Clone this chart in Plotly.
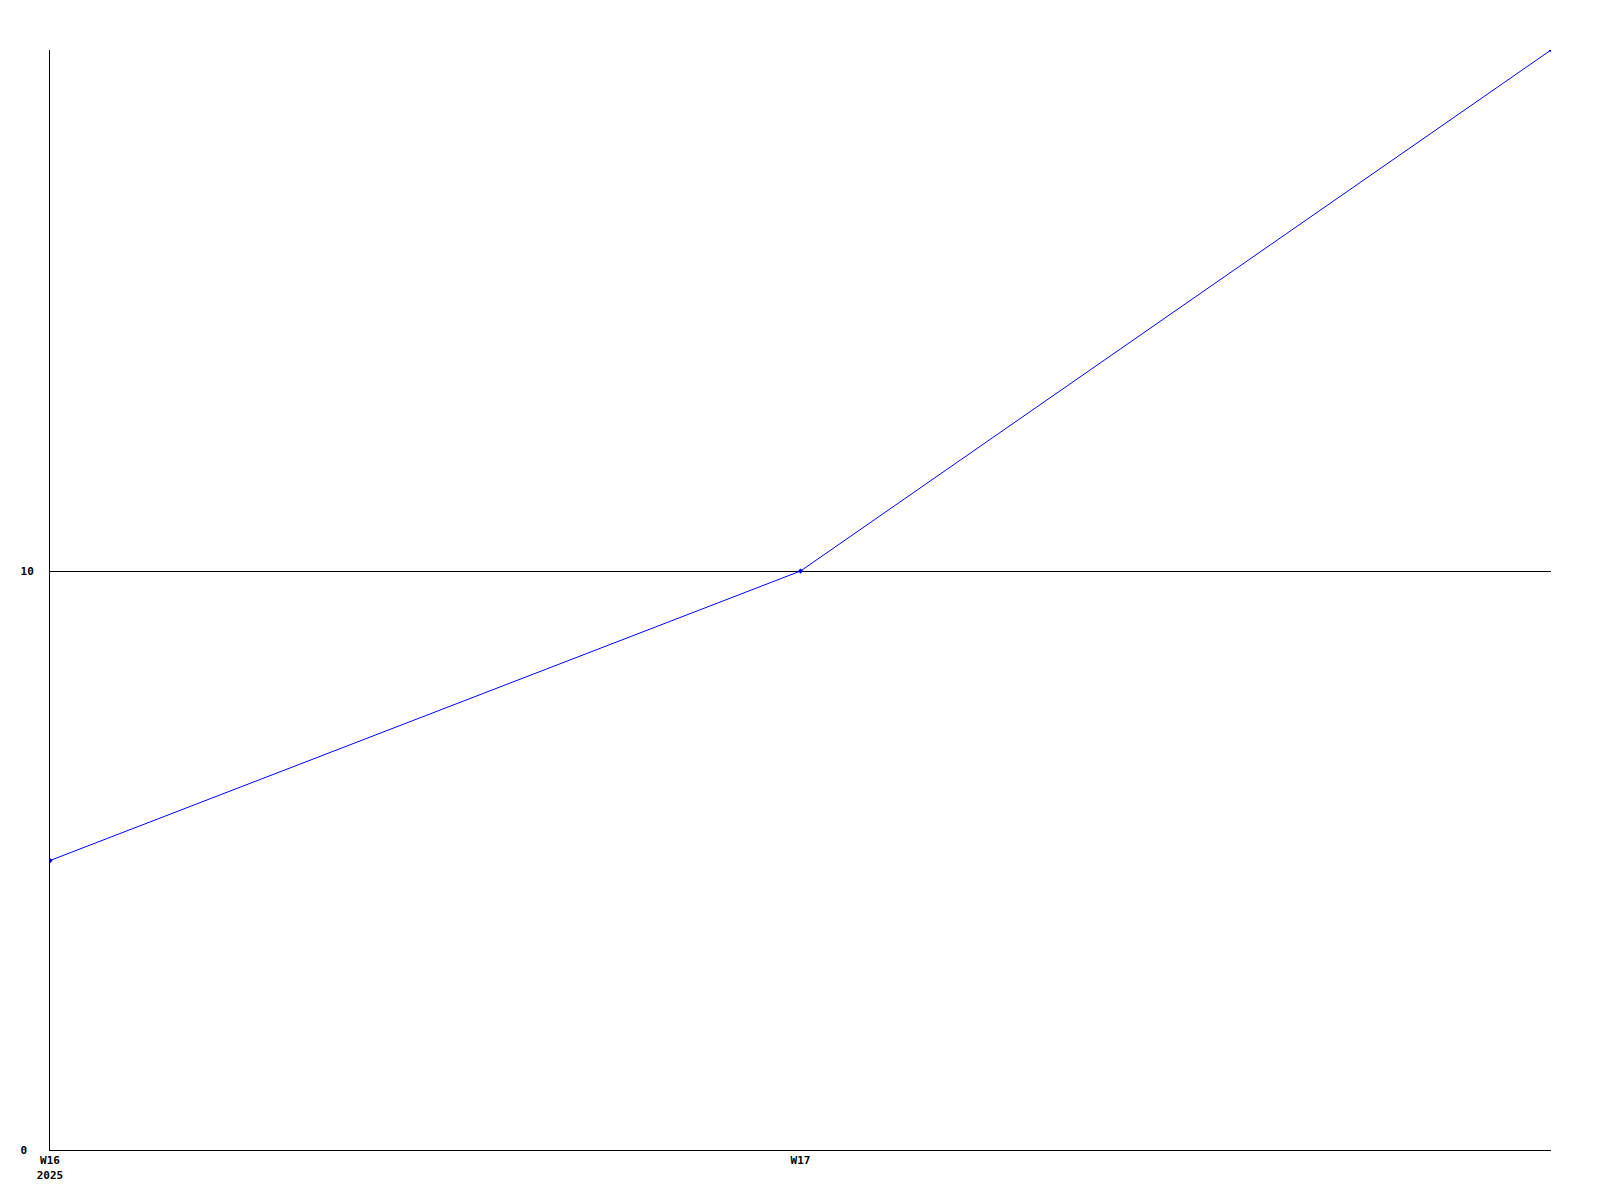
import plotly.graph_objects as go

weeks = [16, 17, 18]
values = [5, 10, 19]
x_tick_vals = [16, 17]
x_tick_text = ["W16<br>2025", "W17"]
y_tick_vals = [0, 10]
y_tick_text = ["0\u00a0", "10"]

fig = go.Figure()
fig.add_trace(go.Scatter(
    x=weeks, y=values, mode="lines+markers",
    line=dict(color="#0000ff", width=1),
    marker=dict(color="#0000ff", size=4, symbol="diamond"),
    cliponaxis=True,
))

font = dict(family="DejaVu Sans Mono", size=11, color="black")
fig.update_layout(
    width=1592, height=1192,
    margin=dict(l=42, r=49, t=42, b=50, autoexpand=False),
    paper_bgcolor="white", plot_bgcolor="white",
    showlegend=False,
    font=font,
)
fig.update_xaxes(
    range=[16, 18], tickvals=x_tick_vals, ticktext=x_tick_text,
    showgrid=False, zeroline=False, showline=True, linecolor="black", linewidth=1,
    ticks="", automargin=False,
    tickfont=dict(family="DejaVu Sans Mono", size=11, color="black", weight="bold"),
)
fig.update_yaxes(
    range=[0, 19], tickvals=y_tick_vals, ticktext=y_tick_text,
    showgrid=True, gridcolor="black", gridwidth=1, zeroline=False,
    showline=True, linecolor="black", linewidth=1,
    ticks="", ticklabelstandoff=13, automargin=False,
    tickfont=dict(family="DejaVu Sans Mono", size=11, color="black", weight="bold"),
)

fig.write_html("out.html")
